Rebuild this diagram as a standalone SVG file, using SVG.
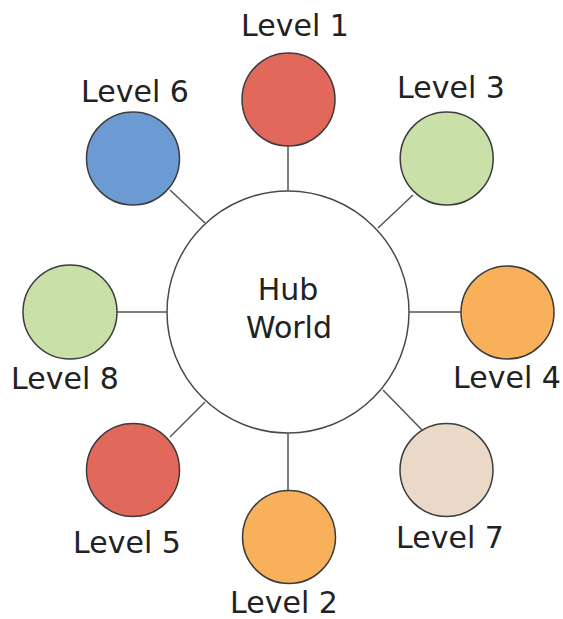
<svg xmlns="http://www.w3.org/2000/svg" width="563" height="619" viewBox="0 0 563 619">
  <style>
    .node { stroke: #3c3c3c; stroke-width: 1.5; }
    .hub { fill: #ffffff; stroke: #4a4a4a; stroke-width: 1.5; }
    .link { stroke: #555555; stroke-width: 1.5; fill: none; }
    .label { font-family: "DejaVu Sans", Verdana, sans-serif; font-size: 30px; fill: #222222; text-anchor: middle; }
    .red { fill: #e2685b; }
    .blue { fill: #6b9bd2; }
    .green { fill: #c9e0a8; }
    .orange { fill: #f8b05a; }
    .beige { fill: #ead9c8; }
  </style>
  <rect width="563" height="619" fill="#ffffff"/>

  <!-- spokes from the hub to each level -->
  <g id="connectors">
    <line class="link" x1="288" y1="146" x2="288" y2="191"/>
    <line class="link" x1="288" y1="433" x2="288" y2="491"/>
    <line class="link" x1="117" y1="312" x2="167" y2="312"/>
    <line class="link" x1="409" y1="312" x2="461" y2="312"/>
    <line class="link" x1="170" y1="190" x2="205" y2="223"/>
    <line class="link" x1="413" y1="195" x2="378" y2="228"/>
    <line class="link" x1="170" y1="437" x2="205" y2="402"/>
    <line class="link" x1="383" y1="390" x2="423" y2="431"/>
  </g>

  <g id="hub">
    <circle class="hub" cx="288" cy="312" r="121"/>
    <text class="label" x="288" y="300">Hub</text>
    <text class="label" x="289" y="338">World</text>
  </g>

  <g id="level1">
    <circle class="node red" cx="288.5" cy="99.5" r="46.5"/>
    <text class="label" x="295" y="36">Level 1</text>
  </g>
  <g id="level2">
    <circle class="node orange" cx="289" cy="537" r="46.5"/>
    <text class="label" x="284" y="613">Level 2</text>
  </g>
  <g id="level3">
    <circle class="node green" cx="446.7" cy="158.5" r="46.5"/>
    <text class="label" x="451" y="98">Level 3</text>
  </g>
  <g id="level4">
    <circle class="node orange" cx="507.5" cy="312.5" r="46.5"/>
    <text class="label" x="507" y="388">Level 4</text>
  </g>
  <g id="level5">
    <circle class="node red" cx="133" cy="470" r="46.5"/>
    <text class="label" x="127" y="553">Level 5</text>
  </g>
  <g id="level6">
    <circle class="node blue" cx="133" cy="158.5" r="46.5"/>
    <text class="label" x="135" y="102">Level 6</text>
  </g>
  <g id="level7">
    <circle class="node beige" cx="446.5" cy="470" r="46.5"/>
    <text class="label" x="450" y="548">Level 7</text>
  </g>
  <g id="level8">
    <circle class="node green" cx="70" cy="312" r="47"/>
    <text class="label" x="65" y="389">Level 8</text>
  </g>
</svg>
